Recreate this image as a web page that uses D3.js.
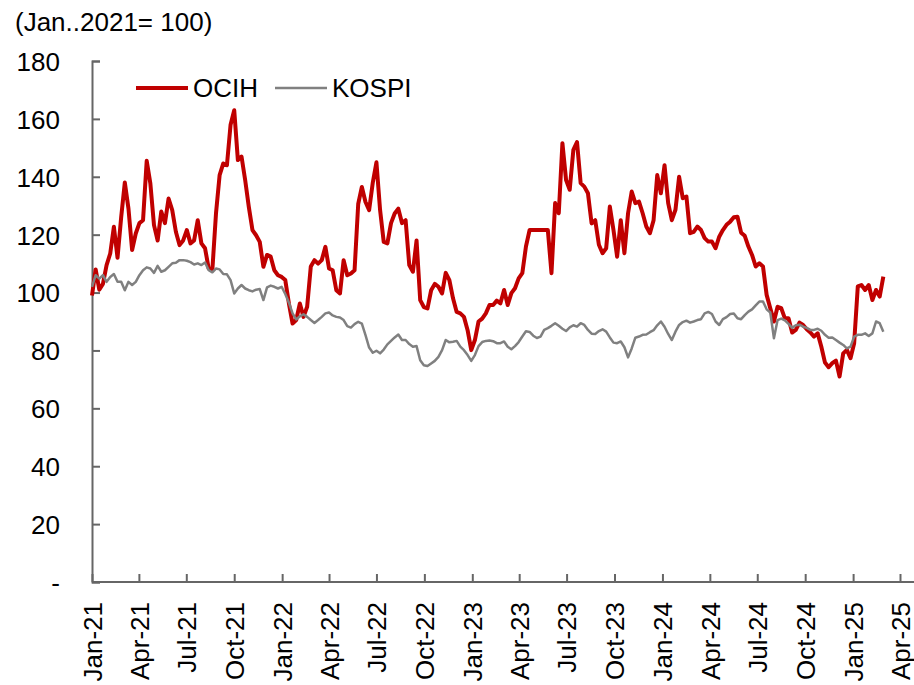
<!DOCTYPE html>
<html>
<head>
<meta charset="utf-8">
<script src="https://cdn.jsdelivr.net/npm/d3@7"></script>
<style>
  body { margin: 0; background: #fff; }
  text { font-family: "Liberation Sans", Arial, sans-serif; fill: #000; }
</style>
</head>
<body>
<div id="chart"></div>
<script>
// weekly closes, Jan 2021 = 100
const startDate = new Date(2021, 0, 1);

const ocih = [
  99, 108, 101, 103, 109.5, 113.5, 122.7, 112, 126, 138, 129, 114.7, 120.4, 124, 125, 145.5,
  137.7, 123.3, 118, 128, 124, 132.5, 128.5, 121, 116.4, 118, 121.6, 117, 118, 125, 117, 115.3,
  108.3, 107.7, 127.3, 140.6, 144.6, 144, 158, 163, 145.8, 147, 138.9, 129.6, 121.6, 119.8, 117.5, 108.9,
  113, 112.4, 107.7, 106, 105.4, 104.3, 96.2, 89.3, 90.5, 96.2, 91.6, 95.1, 109, 111.2, 110, 111.2,
  115.8, 108.3, 107.7, 100.8, 99.7, 111.2, 106, 106.6, 107.7, 130.6, 136.5, 131.3, 128.5, 138, 145, 128.5,
  117.5, 117, 124, 127.3, 129, 124, 125, 109.5, 107.2, 118, 97.4, 95, 94.5, 100.8, 103, 102,
  99.7, 106.8, 104.3, 98, 93.3, 92.8, 91.6, 87, 80.1, 83.6, 90, 91, 92.8, 95.7, 95.7, 97.2,
  96.3, 100.9, 95.7, 99.8, 101.5, 104.9, 106.7, 115.9, 121.6, 121.6, 121.6, 121.6, 121.6, 121.6, 106.7, 130.9,
  127.4, 151.6, 138.9, 135.5, 149.3, 152, 137.8, 136.6, 134.3, 123.9, 125, 116.5, 113.6, 115.3, 129.7, 121.6,
  112.4, 125, 113.6, 127.4, 134.9, 130.9, 131.4, 127.4, 122.8, 120.5, 125, 140.6, 134.3, 144, 130.9, 125,
  128.6, 140, 132.6, 133.2, 120.5, 121, 122.8, 121.6, 118.8, 117.6, 117.6, 115.3, 119.3, 121.6, 123.4, 124.5,
  126, 126.2, 120.7, 119.6, 115.9, 113, 109, 110.1, 109, 99.2, 94.6, 90, 95.1, 94.6, 91.1, 91.1,
  86.2, 87.1, 89.6, 88.8, 87.3, 86.2, 84.8, 85.9, 81.3, 75.8, 74.2, 75.6, 76.5, 71, 79, 80.2,
  77.3, 82.5, 102.1, 102.6, 100.9, 102.6, 97.4, 100.9, 98.6, 105.5
];

const kospi = [
  102, 106, 104.8, 106, 103.7, 105.4, 106.4, 103.7, 103.7, 100.8, 103.7, 102.6, 103.7, 106, 107.7, 108.7,
  108.3, 106.8, 109.2, 107.2, 107.7, 108.9, 110.1, 110.3, 111.2, 111.2, 111, 110.5, 109.7, 110.1, 109.5, 110.4,
  107.7, 107, 108.3, 108, 106.4, 106.3, 104.3, 99.7, 101.4, 102.6, 101.4, 100.8, 100.4, 101, 101.2, 97.4,
  101.8, 102.4, 102, 101.4, 102, 99.5, 96.5, 92.8, 90.7, 91.8, 92.5, 91.6, 90.5, 89.5, 90.5, 91.6,
  92.8, 93.1, 92.1, 91.6, 91.4, 90.5, 88.4, 87.9, 89.1, 89.9, 89.3, 85.3, 81, 79.2, 79.9, 79,
  80.3, 82.1, 83.3, 84.5, 85.5, 83.6, 83.6, 82.2, 81.3, 81.5, 76.6, 74.9, 74.6, 75.5, 76.4, 77.8,
  80.1, 83.6, 82.8, 83, 83.3, 81.3, 80.1, 78.4, 76.4, 78.4, 81.5, 82.9, 83.3, 83.4, 83.2, 82.5,
  82.5, 83.1, 81.3, 80.4, 81.5, 82.9, 84.8, 86.6, 86.4, 85.1, 84.3, 84.8, 87.1, 87.7, 88.5, 89.4,
  88.5, 87.5, 86.7, 88, 88.7, 88.2, 89.4, 88.8, 87.1, 85.8, 85.7, 86.7, 87.3, 86.5, 84.5, 82.7,
  82.5, 83.1, 81.1, 77.6, 80.7, 84.4, 84.8, 85.4, 85.5, 86.3, 87, 88.7, 90, 88.2, 85.7, 83.6,
  86.5, 88.8, 89.8, 90.3, 89.6, 90, 90.5, 90.8, 92.8, 93.3, 92.6, 90, 88.8, 90.8, 91.5, 92.6,
  92.8, 91.1, 90.8, 92.2, 93.4, 94.2, 95.6, 96.9, 96.9, 94.2, 93.1, 84.2, 90.5, 91, 90.4, 89.2,
  87.8, 88.7, 88.9, 88.2, 87.8, 87.1, 87.1, 87.5, 86.8, 85.4, 84.4, 84.5, 83.6, 82.7, 81.9, 80.7,
  81.3, 84.8, 85.4, 85.4, 85.9, 85, 85.9, 90, 89.4, 86.5
];

const yTicks = [0, 20, 40, 60, 80, 100, 120, 140, 160, 180];
const seriesNames = ["OCIH", "KOSPI"];
const seriesColors = ["#C00000", "#808080"];

const width = 914, height = 685;
const plotLeft = 92, plotRight = 900, plotTop = 61, plotBottom = 582;

const svg = d3.select("#chart").append("svg")
  .attr("width", width)
  .attr("height", height);

const dates = ocih.map((d, i) => d3.timeDay.offset(startDate, 7 * i));

const x = d3.scaleTime()
  .domain([new Date(2021, 0, 1), new Date(2025, 3, 1)])
  .range([plotLeft, plotRight]);

const y = d3.scaleLinear()
  .domain([0, 180])
  .range([plotBottom, plotTop]);

// y axis
const yAxis = svg.append("g")
  .attr("transform", `translate(${plotLeft},0)`)
  .call(d3.axisLeft(y).tickValues(yTicks).tickSize(-8).tickPadding(32)
    .tickFormat(d => d === 0 ? "-" : d));
yAxis.select(".domain").attr("stroke", "#666").attr("stroke-width", 2);
yAxis.selectAll(".tick line").attr("stroke", "#666").attr("stroke-width", 2);
yAxis.selectAll("text")
  .style("font-size", "26px")
  .attr("fill", "#000")
  .attr("dy", "0.36em");

// x axis
const xAxis = svg.append("g")
  .attr("transform", `translate(0,${plotBottom})`)
  .call(d3.axisBottom(x).ticks(d3.timeMonth.every(3)).tickSizeInner(-8).tickSizeOuter(0)
    .tickFormat(d3.timeFormat("%b-%y")));
xAxis.select(".domain").remove();
xAxis.append("line")
  .attr("x1", plotLeft).attr("x2", width)
  .attr("stroke", "#666").attr("stroke-width", 2);
xAxis.selectAll(".tick line").attr("stroke", "#666").attr("stroke-width", 2);
xAxis.selectAll(".tick text")
  .style("font-size", "26px")
  .attr("fill", "#000")
  .attr("text-anchor", "end")
  .attr("transform", "translate(0,20) rotate(-90)")
  .attr("x", 0)
  .attr("y", 0)
  .attr("dy", "0.36em");

// lines
const line = d3.line()
  .x((d, i) => x(dates[i]))
  .y(d => y(d));

svg.append("path")
  .datum(ocih)
  .attr("fill", "none")
  .attr("stroke", seriesColors[0])
  .attr("stroke-width", 4)
  .attr("stroke-linejoin", "round")
  .attr("d", line);

svg.append("path")
  .datum(kospi)
  .attr("fill", "none")
  .attr("stroke", seriesColors[1])
  .attr("stroke-width", 2.5)
  .attr("stroke-linejoin", "round")
  .attr("d", line);

// legend
const legend = svg.append("g");
const legendX = [136, 275];
seriesNames.forEach((name, i) => {
  legend.append("line")
    .attr("x1", legendX[i]).attr("x2", legendX[i] + 52)
    .attr("y1", 88).attr("y2", 88)
    .attr("stroke", seriesColors[i])
    .attr("stroke-width", i === 0 ? 4 : 2.5);
  legend.append("text")
    .attr("x", legendX[i] + 57)
    .attr("y", 97)
    .style("font-size", "26px")
    .text(name);
});

svg.append("text")
  .attr("x", 15)
  .attr("y", 31)
  .style("font-size", "26px")
  .text("(Jan..2021= 100)");
</script>
</body>
</html>
